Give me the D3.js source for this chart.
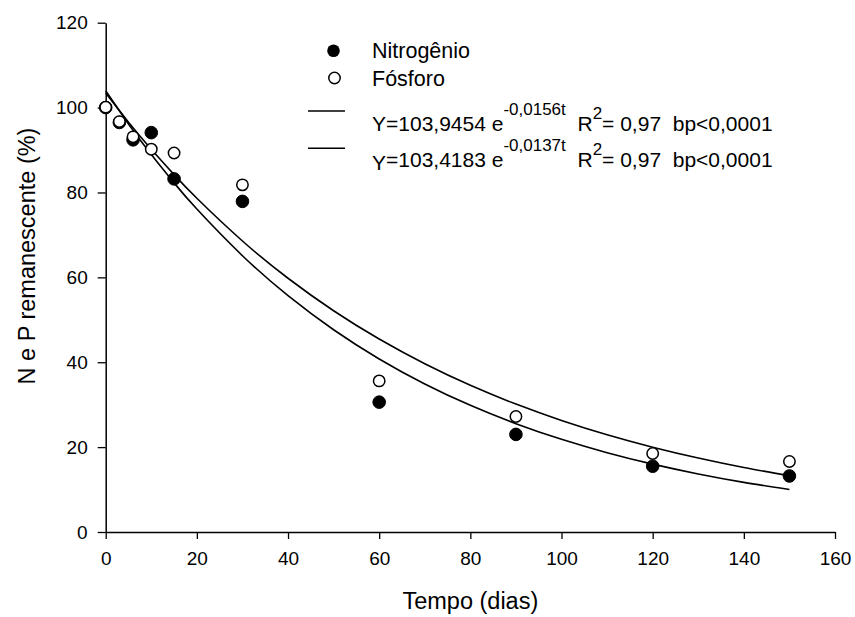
<!DOCTYPE html>
<html>
<head>
<meta charset="utf-8">
<script src="https://cdn.jsdelivr.net/npm/d3@7"></script>
<style>
  html, body { margin: 0; padding: 0; background: #fff; }
  svg { display: block; font-family: Arial, "Liberation Sans", sans-serif; }
</style>
</head>
<body>
<svg id="chart" width="855" height="617"></svg>
<script>
// ---- Data ----
const daysN = [0, 3, 6, 10, 15, 30, 60, 90, 120, 150];
const nitrogenio = [100, 96.5, 92.4, 94.1, 83.2, 77.9, 30.6, 23.0, 15.5, 13.2];
const daysP = [0, 3, 6, 10, 15, 30, 60, 90, 120, 150];
const fosforo = [100.1, 96.7, 93.1, 90.2, 89.3, 81.8, 35.6, 27.2, 18.5, 16.6];

// fitted curves (match legend equations)
const curveDays = [0, 5, 10, 15, 20, 30, 40, 50, 60, 70, 80, 90, 100, 110, 120, 130, 140, 150];
const fitN = [103.95, 96.15, 88.93, 82.26, 76.09, 65.10, 55.69, 47.65, 40.77, 34.88, 29.84, 25.53, 21.84, 18.69, 15.99, 13.68, 11.70, 10.01];
const fitP = [103.42, 96.57, 90.18, 84.21, 78.63, 68.57, 59.79, 52.13, 45.46, 39.64, 34.56, 30.14, 26.28, 22.91, 19.98, 17.42, 15.19, 13.25];

const xTicks = [0, 20, 40, 60, 80, 100, 120, 140, 160];
const yTicks = [0, 20, 40, 60, 80, 100, 120];

const legendLabels = ["Nitrogênio", "Fósforo"];
const eqN = { main: "Y=103,9454 e", exp: "-0,0156t", r: "R", r2: "2", rest: "= 0,97  bp<0,0001" };
const eqP = { main: "Y=103,4183 e", exp: "-0,0137t", r: "R", r2: "2", rest: "= 0,97  bp<0,0001" };

const xTitle = "Tempo (dias)";
const yTitle = "N e P remanescente (%)";

// ---- Layout ----
const svg = d3.select("#chart");
const mLeft = 105.7, mRight = 835, mTop = 22.7, mBottom = 532;

const x = d3.scaleLinear().domain([0, 160]).range([mLeft, mRight]);
const y = d3.scaleLinear().domain([0, 120]).range([mBottom, mTop]);

// Axes
const xAxis = svg.append("g")
  .attr("transform", `translate(0,${mBottom})`)
  .call(d3.axisBottom(x).tickValues(xTicks).tickSize(7).tickSizeOuter(0).tickPadding(13));
const yAxis = svg.append("g")
  .attr("transform", `translate(${mLeft},0)`)
  .call(d3.axisLeft(y).tickValues(yTicks).tickSize(8).tickSizeOuter(0).tickPadding(10));

[xAxis, yAxis].forEach(g => {
  g.selectAll("path.domain").attr("stroke", "#000").attr("stroke-width", 1.5);
  g.selectAll(".tick line").attr("stroke", "#000").attr("stroke-width", 1.3);
  g.selectAll(".tick text").attr("fill", "#000").style("font-size", "19px")
    .style("font-family", "Arial, 'Liberation Sans', sans-serif");
});

// Axis titles
svg.append("text")
  .attr("x", (mLeft + mRight) / 2).attr("y", 609)
  .attr("text-anchor", "middle")
  .style("font-size", "23.5px")
  .text(xTitle);
svg.append("text")
  .attr("transform", `translate(35,256) rotate(-90)`)
  .attr("text-anchor", "middle")
  .style("font-size", "23.5px")
  .text(yTitle);

// Curves
const line = d3.line().x(d => x(d[0])).y(d => y(d[1])).curve(d3.curveNatural);
[fitN, fitP].forEach(vals => {
  svg.append("path")
    .datum(curveDays.map((d, i) => [d, vals[i]]))
    .attr("d", line)
    .attr("fill", "none")
    .attr("stroke", "#000")
    .attr("stroke-width", 1.6);
});

// Points: filled (N) then open (P) on top
const r = 6.3;
svg.append("g").selectAll("circle")
  .data(daysN.map((d, i) => [d, nitrogenio[i]]))
  .join("circle")
  .attr("cx", d => x(d[0])).attr("cy", d => y(d[1])).attr("r", r)
  .attr("fill", "#000").attr("stroke", "#000").attr("stroke-width", 1);
svg.append("g").selectAll("circle")
  .data(daysP.map((d, i) => [d, fosforo[i]]))
  .join("circle")
  .attr("cx", d => x(d[0])).attr("cy", d => y(d[1])).attr("r", r - 0.6)
  .attr("fill", "#fff").attr("stroke", "#000").attr("stroke-width", 1.5);

// Legend
const lg = svg.append("g");
lg.append("circle").attr("cx", 333.5).attr("cy", 50.7).attr("r", r).attr("fill", "#000");
lg.append("text").attr("x", 372).attr("y", 57.5).style("font-size", "21.5px").text(legendLabels[0]);
lg.append("circle").attr("cx", 334.5).attr("cy", 78).attr("r", r - 0.6)
  .attr("fill", "#fff").attr("stroke", "#000").attr("stroke-width", 1.5);
lg.append("text").attr("x", 372).attr("y", 86).style("font-size", "21.5px").text(legendLabels[1]);

function eqRow(eq, ly, by, yOffset) {
  lg.append("line").attr("x1", 308).attr("x2", 345).attr("y1", ly).attr("y2", ly)
    .attr("stroke", "#000").attr("stroke-width", 1.5);
  const t = lg.append("text").attr("x", 372).attr("y", by).style("font-size", "21px");
  t.append("tspan").attr("dy", yOffset).text(eq.main.slice(0, 1));
  t.append("tspan").attr("dy", -yOffset).text(eq.main.slice(1));
  t.append("tspan").attr("dy", -16).style("font-size", "17px").text(eq.exp);
  t.append("tspan").attr("dy", 16).text("\u00a0\u00a0" + eq.r);
  t.append("tspan").attr("dy", -12).style("font-size", "17px").text(eq.r2);
  t.append("tspan").attr("dy", 12).text(eq.rest.replace(/  /g, "\u00a0\u00a0"));
}
eqRow(eqN, 111, 131, 0);
eqRow(eqP, 148.3, 167, 3);
</script>
</body>
</html>
